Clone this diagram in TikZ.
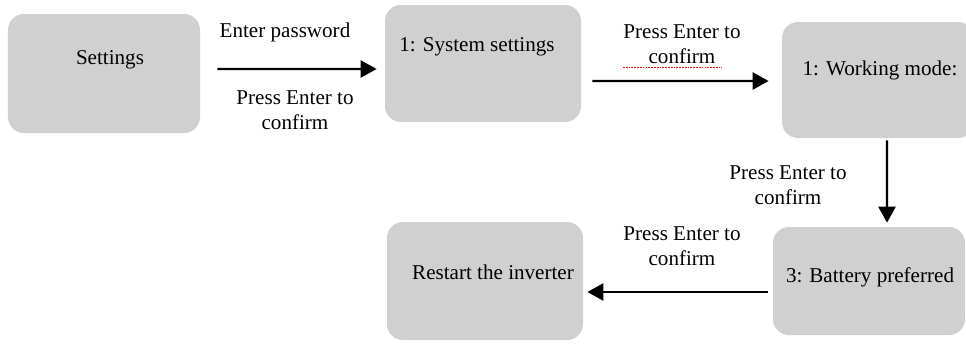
\documentclass[tikz,border=0pt]{standalone}
\usepackage{fontspec}
\setmainfont{Liberation Serif}
\usepackage{tikz}
\usetikzlibrary{arrows.meta}

\definecolor{boxgray}{RGB}{208,208,208}

\begin{document}
\begin{tikzpicture}[
    x=0.2mm, y=-0.2mm,
    every node/.style={inner sep=0pt, font=\fontsize{12}{14.2}\selectfont},
    stepbox/.style={fill=boxgray, rounded corners=3.2mm},
    caption/.style={align=center},
    flow/.style={-{Triangle[length=3.2mm,width=3.4mm]}, line width=1.4pt}
]
    \useasboundingbox (0,0) rectangle (966,345);

    % 1. Define the boxes
    \node[stepbox, minimum width=38.4mm, minimum height=23.8mm] (settings) at (104,73.5) {};
    \node[stepbox, minimum width=39.2mm, minimum height=23.4mm] (system) at (483,63.5) {};
    \node[stepbox, minimum width=38.4mm, minimum height=23.2mm] (working) at (878,80) {};
    \node[stepbox, minimum width=38.4mm, minimum height=21.6mm] (battery) at (869,281) {};
    \node[stepbox, minimum width=39.2mm, minimum height=23.6mm] (restart) at (485,281) {};

    % texts inside the boxes
    \node (settings-txt) at (110,60) {Settings};
    \node (system-txt) at (477,47) {1: System settings};
    \node (working-txt) at (880,70) {1: Working mode:};
    \node (battery-txt) at (870,277) {3: Battery preferred};
    \node (restart-txt) at (493,272) {Restart the inverter};

    % 2. Draw the arrows

    % Settings -> System settings
    \draw[flow] ([xshift=3.4mm,yshift=0.9mm]settings.east) -- ([xshift=-1.6mm,yshift=-1.1mm]system.west);
    \node (pwd) at (285,32) {Enter password};
    \node[caption] (confirm1) at (295,110) {Press Enter to\\confirm};

    % System settings -> Working mode
    \draw[flow] ([xshift=2.2mm,yshift=-3.5mm]system.east) -- ([xshift=-2.6mm,yshift=-0.2mm]working.west);
    \node[caption] (confirm2) at (682,44) {Press Enter to\\confirm};
    \draw[red, line width=0.7pt, dash pattern=on 1pt off 0.6pt] ([xshift=-11.8mm,yshift=-0.8mm]confirm2.south) -- ++(19.8mm,0);

    % Working mode -> Battery preferred (down)
    \draw[flow] ([xshift=1.8mm,yshift=-0.4mm]working.south) -- ([xshift=3.6mm,yshift=0.8mm]battery.north);
    \node[caption] (confirm3) at (788,185) {Press Enter to\\confirm};

    % Battery preferred -> Restart (back to the left)
    \draw[flow] ([xshift=-1mm,yshift=-2.2mm]battery.west) -- ([xshift=0.8mm,yshift=-2.2mm]restart.east);
    \node[caption] (confirm4) at (682,246) {Press Enter to\\confirm};

\end{tikzpicture}
\end{document}
